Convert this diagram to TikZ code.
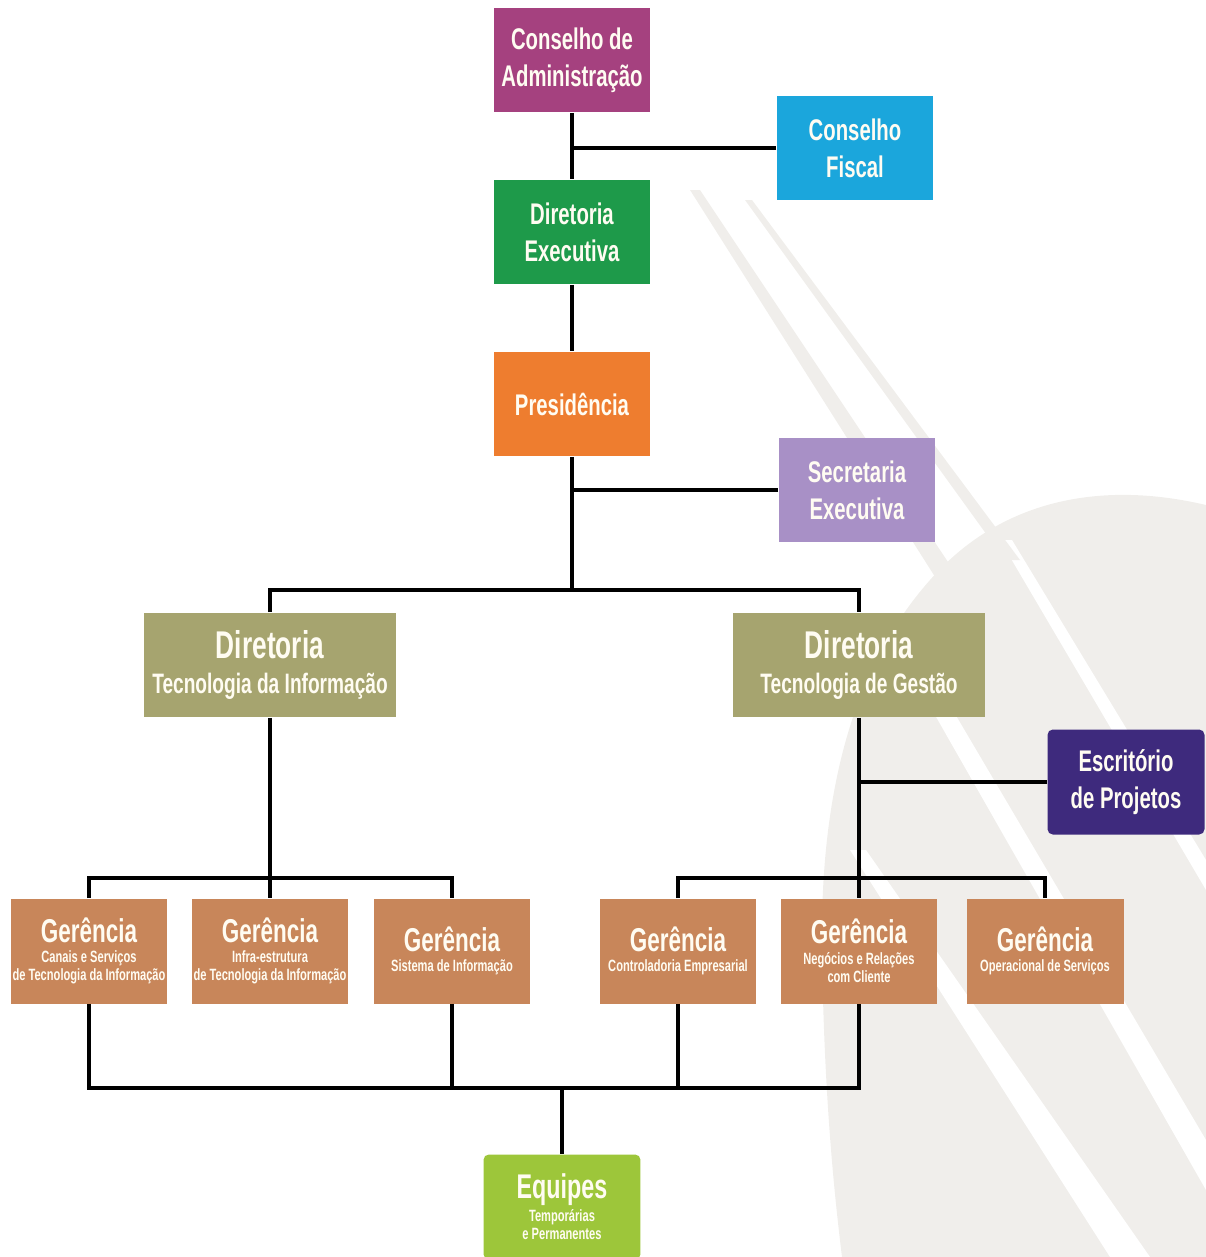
\documentclass[tikz,border=0pt]{standalone}
\usepackage{fontspec}
\setmainfont{Liberation Sans}[FakeStretch=0.68]
\usepackage{tikz}

\definecolor{admcol}{HTML}{A5417F}
\definecolor{fiscol}{HTML}{1BA6DC}
\definecolor{execol}{HTML}{1E9A4A}
\definecolor{precol}{HTML}{EE7D2F}
\definecolor{seccol}{HTML}{A890C6}
\definecolor{dircol}{HTML}{A6A46F}
\definecolor{escol}{HTML}{3E2A7D}
\definecolor{gercol}{HTML}{C8865A}
\definecolor{equcol}{HTML}{9DC63A}
\definecolor{swoosh}{HTML}{F0EEEB}
\definecolor{txtcol}{HTML}{FFFCF2}

\begin{document}
\begin{tikzpicture}[x=0.02cm, y=-0.02cm,
	box/.style={fill=#1, text=txtcol, font=\bfseries\fontsize{17}{21}\selectfont, align=center,
		minimum width=3.14cm, minimum height=2.1cm, inner sep=0pt},
	dirbox/.style={fill=dircol, text=txtcol, font=\bfseries\fontsize{16}{20}\selectfont, align=center,
		minimum width=5.06cm, minimum height=2.1cm, inner sep=0pt},
	gerbox/.style={fill=gercol, text=txtcol, font=\bfseries\fontsize{9.3}{10.5}\selectfont, align=center,
		minimum width=3.14cm, minimum height=2.1cm, inner sep=0pt},
	conn/.style={line width=2.3pt, black}]
	\useasboundingbox (0,0) rectangle (1206,1257);

	% background swooshes
	\fill [swoosh] (1206,505) .. controls (1100,480) and (1000,500) .. (930,580)
		.. controls (850,670) and (820,800) .. (822,950)
		.. controls (824,1100) and (835,1200) .. (842,1257) -- (1206,1257) -- cycle;
	\fill [white] (1000,540) -- (1012,540) -- (1206,860) -- (1206,890) -- cycle;
	\fill [white] (915,680) -- (935,680) -- (1206,1140) -- (1206,1190) -- cycle;
	\fill [white] (850,850) -- (866,850) -- (1150,1257) -- (1110,1257) -- cycle;
	\fill [swoosh] (690,190) -- (700,190) -- (1000,640) -- (975,640) -- cycle;
	\fill [swoosh] (745,200) -- (752,200) -- (1020,560) -- (1005,560) -- cycle;

	% boxes
	\node [box=admcol] (adm) at (572,60) {Conselho de\\Administração};
	\node [box=fiscol] (fis) at (855,148) {Conselho\\Fiscal};
	\node [box=execol] (dex) at (572,232) {Diretoria\\Executiva};
	\node [box=precol] (pre) at (572,404) {Presidência};
	\node [box=seccol] (sec) at (857,490) {Secretaria\\Executiva};
	\node [dirbox] (dti) at (270,665) {{\fontsize{22}{24}\selectfont Diretoria}\\Tecnologia da Informação};
	\node [dirbox] (dtg) at (859,665) {{\fontsize{22}{24}\selectfont Diretoria}\\Tecnologia de Gestão};
	\node [box=escol, rounded corners=3pt] (esc) at (1126,782) {Escritório\\de Projetos};

	\node [gerbox] (g1) at (89,951) {{\fontsize{18.8}{21}\selectfont Gerência}\\[1pt]Canais e Serviços\\de Tecnologia da Informação};
	\node [gerbox] (g2) at (270,951) {{\fontsize{18.8}{21}\selectfont Gerência}\\[1pt]Infra-estrutura\\de Tecnologia da Informação};
	\node [gerbox] (g3) at (452,951) {{\fontsize{18.8}{21}\selectfont Gerência}\\[1pt]Sistema de Informação};
	\node [gerbox] (g4) at (678,951) {{\fontsize{18.8}{21}\selectfont Gerência}\\[1pt]Controladoria Empresarial};
	\node [gerbox] (g5) at (859,951) {{\fontsize{18.8}{21}\selectfont Gerência}\\[1pt]Negócios e Relações\\com Cliente};
	\node [gerbox] (g6) at (1045,951) {{\fontsize{18.8}{21}\selectfont Gerência}\\[1pt]Operacional de Serviços};

	\node [gerbox, fill=equcol, rounded corners=3pt] (equ) at (562,1207) {{\fontsize{19.5}{22}\selectfont Equipes}\\[1pt]Temporárias\\e Permanentes};

	% junctions
	\coordinate (dbus) at (572,590);
	\coordinate (tibus) at (270,878);
	\coordinate (tgbus) at (859,878);
	\coordinate (bus) at (562,1088);

	% connectors
	\draw [conn] (adm) -- (dex);
	\draw [conn] (fis.west) -- (fis.west -| adm.south);
	\draw [conn] (dex) -- (pre);
	\draw [conn] (pre.south) -- (dbus);
	\draw [conn] (sec.west) -- (sec.west -| pre.south);
	\draw [conn] (dti.north) -- (dti.north |- dbus) -- (dtg.north |- dbus) -- (dtg.north);

	\draw [conn] (dti.south) -- (g2.north);
	\draw [conn] (g1.north) -- (g1.north |- tibus) -- (g3.north |- tibus) -- (g3.north);

	\draw [conn] (dtg.south) -- (g5.north);
	\draw [conn] (esc.west) -- (esc.west -| dtg.south);
	\draw [conn] (g4.north) -- (g4.north |- tgbus) -- (g6.north |- tgbus) -- (g6.north);

	\draw [conn] (g1.south) -- (g1.south |- bus) -- (g5.south |- bus) -- (g5.south);
	\draw [conn] (g3.south) -- (g3.south |- bus);
	\draw [conn] (g4.south) -- (g4.south |- bus);
	\draw [conn] (bus) -- (equ.north);
\end{tikzpicture}
\end{document}
